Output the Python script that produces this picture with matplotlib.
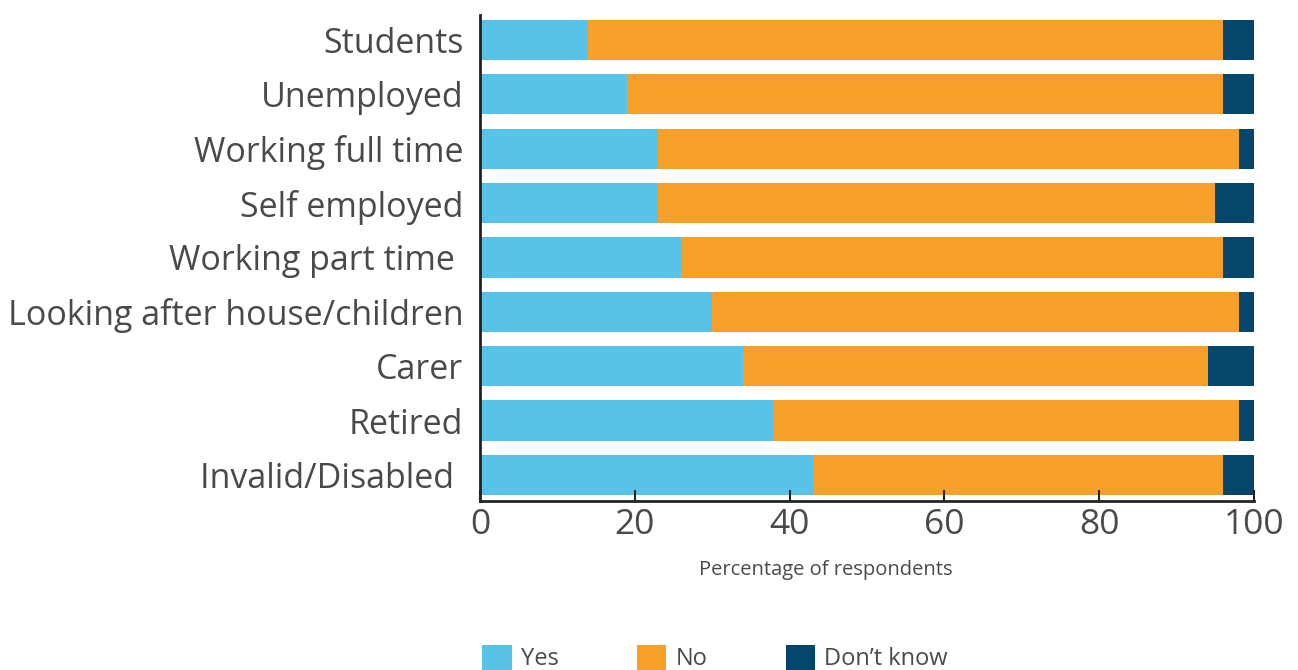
import matplotlib
matplotlib.use("Agg")
import matplotlib.pyplot as plt
from matplotlib.patches import Patch

categories = [
    "Students",
    "Unemployed",
    "Working full time",
    "Self employed",
    "Working part time ",
    "Looking after house/children",
    "Carer",
    "Retired",
    "Invalid/Disabled ",
]
yes = [14, 19, 23, 23, 26, 30, 34, 38, 43]
no = [82, 77, 75, 72, 70, 68, 60, 60, 53]
dont_know = [4, 4, 2, 5, 4, 2, 6, 2, 4]

series_names = ["Yes", "No", "Don\u2019t know"]
colors = ["#57C3E8", "#F7A029", "#05466D"]
ticks = [0, 20, 40, 60, 80, 100]

plt.rcParams["font.family"] = ["Open Sans", "DejaVu Sans"]
text_color = "#4a4a4a"

fig = plt.figure(figsize=(12.98, 6.70), dpi=100)
ax = fig.add_axes([480 / 1298, 1 - 501 / 670, (1254 - 480) / 1298, (501 - 15) / 670])

pos = list(range(len(categories)))
left = [0] * len(categories)
for vals, name, col in zip([yes, no, dont_know], series_names, colors):
    ax.barh(pos, vals, left=left, height=0.74, color=col, label=name, edgecolor="none")
    left = [l + v for l, v in zip(left, vals)]

ax.set_xlim(0, 100)
ax.set_ylim(8.48, -0.46)
ax.set_yticks(pos)
ax.set_yticklabels(categories, fontsize=24.5, color=text_color)
ax.set_xticks(ticks)
ax.set_xticklabels([str(t) for t in ticks], fontsize=25.5, color=text_color)
ax.tick_params(axis="y", length=0, pad=12)
ax.tick_params(axis="x", direction="in", length=8, width=1.5, color="#222222", pad=5)

for s in ["top", "right"]:
    ax.spines[s].set_visible(False)
for s in ["left", "bottom"]:
    ax.spines[s].set_linewidth(2)
    ax.spines[s].set_color("#222222")

ax.set_xlabel("Percentage of respondents", fontsize=14.5, color=text_color)
ax.xaxis.set_label_coords(0.447, -0.122)

handles = [Patch(facecolor=c, edgecolor="none") for c in colors]
fig.legend(handles, series_names, loc="upper left", bbox_to_anchor=(482 / 1298, 1 - 645 / 670),
           ncol=3, frameon=False, fontsize=17, handlelength=1.25, handleheight=1.25,
           columnspacing=3.3, handletextpad=0.4, borderpad=0, borderaxespad=0,
           labelcolor=text_color)

fig.savefig("out.png", dpi=100)
